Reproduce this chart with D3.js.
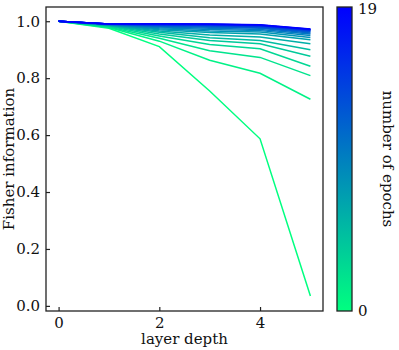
<!DOCTYPE html>
<html>
<head>
<meta charset="utf-8">
<script src="https://cdn.jsdelivr.net/npm/d3@7"></script>
<style>
  body { margin: 0; background: #fff; }
  text { font-family: "DejaVu Serif", serif; }
</style>
</head>
<body>
<div id="canvas"></div>
<script>
// layer depth on x, one line per epoch
var depths = [0, 1, 2, 3, 4, 5];
var epochs = d3.range(0, 20);
var fisher = [
  [1.0, 0.975, 0.911, 0.755, 0.587, 0.035],
  [1.0, 0.978, 0.930, 0.863, 0.817, 0.726],
  [1.0, 0.980, 0.940, 0.896, 0.873, 0.809],
  [1.0, 0.982, 0.948, 0.918, 0.903, 0.842],
  [1.0, 0.984, 0.955, 0.932, 0.921, 0.877],
  [1.0, 0.985, 0.961, 0.942, 0.932, 0.900],
  [1.0, 0.986, 0.966, 0.952, 0.945, 0.921],
  [1.0, 0.987, 0.970, 0.960, 0.955, 0.935],
  [1.0, 0.988, 0.974, 0.966, 0.962, 0.943],
  [1.0, 0.988, 0.977, 0.971, 0.967, 0.950],
  [1.0, 0.989, 0.980, 0.975, 0.971, 0.955],
  [1.0, 0.989, 0.982, 0.979, 0.975, 0.959],
  [1.0, 0.989, 0.984, 0.982, 0.978, 0.962],
  [1.0, 0.990, 0.986, 0.984, 0.980, 0.965],
  [1.0, 0.990, 0.987, 0.986, 0.982, 0.967],
  [1.0, 0.990, 0.988, 0.987, 0.984, 0.969],
  [1.0, 0.990, 0.989, 0.988, 0.985, 0.970],
  [1.0, 0.990, 0.990, 0.989, 0.986, 0.971],
  [1.0, 0.990, 0.990, 0.989, 0.987, 0.972],
  [1.0, 0.990, 0.991, 0.990, 0.988, 0.973]
];
var xTicks = [0, 2, 4];
var yTicks = [0.0, 0.2, 0.4, 0.6, 0.8, 1.0];
var cbarTicks = [0, 19];

var width = 399, height = 350;
var plotL = 46, plotR = 323, plotT = 7, plotB = 311;
var fontSize = "15px";

var svg = d3.select("#canvas").append("svg").attr("width", width).attr("height", height);

var x = d3.scaleLinear().domain([-0.25, 5.25]).range([plotL, plotR]);
var y = d3.scaleLinear().domain([-0.018, 1.05]).range([plotB, plotT]);

// winter colormap, reversed: epoch 0 green, last epoch blue
function winter(t) {
  return d3.rgb(0, 255 * t, 255 * (1 - 0.5 * t));
}
var color = d3.scaleLinear().domain([0, 19]).range([1, 0]);

var line = d3.line().x(function(d, i) { return x(depths[i]); }).y(function(d) { return y(d); });

svg.selectAll("path.series").data(fisher).enter().append("path")
    .attr("class", "series")
    .attr("d", line)
    .attr("fill", "none")
    .attr("stroke", function(d, i) { return winter(color(epochs[i])); })
    .attr("stroke-width", 1.5);

// axes with inward ticks
var xAxis = svg.append("g").attr("transform", "translate(0," + plotB + ")")
    .call(d3.axisBottom(x).tickValues(xTicks).tickFormat(d3.format("d")).tickSizeInner(-4).tickSizeOuter(0).tickPadding(6));
var yAxis = svg.append("g").attr("transform", "translate(" + plotL + ",0)")
    .call(d3.axisLeft(y).tickValues(yTicks).tickFormat(d3.format(".1f")).tickSizeInner(-4).tickSizeOuter(0).tickPadding(6));
[xAxis, yAxis].forEach(function(g) {
  g.select(".domain").remove();
  g.selectAll(".tick line").attr("stroke", "#222").attr("stroke-width", 1.2);
  g.selectAll(".tick text").style("font-size", fontSize).style("font-family", "DejaVu Serif").attr("fill", "#111");
});

svg.append("rect").attr("x", plotL).attr("y", plotT)
    .attr("width", plotR - plotL).attr("height", plotB - plotT)
    .attr("fill", "none").attr("stroke", "#222").attr("stroke-width", 1.3);

svg.append("text").attr("x", (plotL + plotR) / 2).attr("y", 344)
    .attr("text-anchor", "middle").style("font-size", fontSize).attr("fill", "#111")
    .text("layer depth");

svg.append("text").attr("transform", "translate(9," + (plotT + plotB) / 2 + ") rotate(-90)")
    .attr("text-anchor", "middle").attr("dy", "0.35em").style("font-size", fontSize).attr("fill", "#111")
    .text("Fisher information");

// colorbar
var cbX = 337, cbW = 15;
var defs = svg.append("defs");
var grad = defs.append("linearGradient").attr("id", "cbgrad")
    .attr("x1", 0).attr("y1", 1).attr("x2", 0).attr("y2", 0);
d3.range(0, 1.0001, 0.1).forEach(function(s) {
  grad.append("stop").attr("offset", s).attr("stop-color", winter(1 - s));
});
svg.append("rect").attr("x", cbX).attr("y", plotT).attr("width", cbW).attr("height", plotB - plotT)
    .attr("fill", "url(#cbgrad)").attr("stroke", "#222").attr("stroke-width", 1.3);

var cb = d3.scaleLinear().domain([0, 19]).range([plotB, plotT]);
svg.append("g").attr("transform", "translate(" + (cbX + cbW) + ",0)")
    .call(d3.axisRight(cb).tickValues(cbarTicks).tickSize(0).tickPadding(6))
    .call(function(g) {
      g.select(".domain").remove();
      g.selectAll(".tick text").style("font-size", fontSize).style("font-family", "DejaVu Serif").attr("fill", "#111")
          .attr("dy", function(d) { return d === 19 ? "0.45em" : "0.32em"; });
    });

svg.append("text").attr("transform", "translate(388," + (plotT + plotB) / 2 + ") rotate(90)")
    .attr("text-anchor", "middle").attr("dy", "0.35em").style("font-size", fontSize).attr("fill", "#111")
    .text("number of epochs");
</script>
</body>
</html>
